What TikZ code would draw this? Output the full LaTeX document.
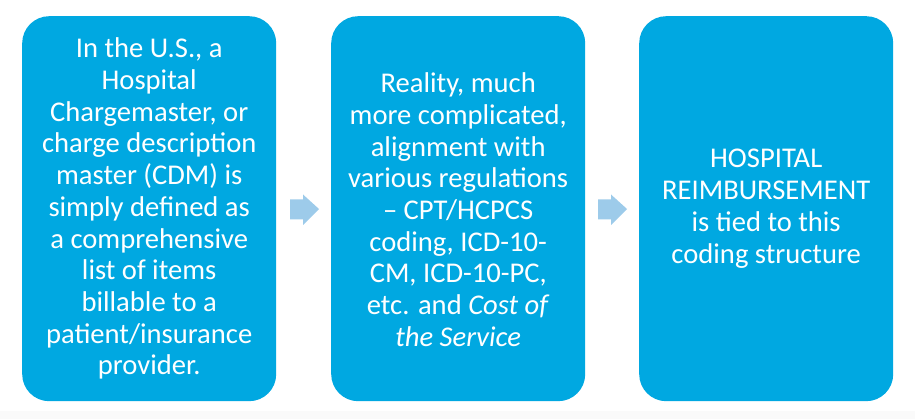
\documentclass[tikz,border=0pt]{standalone}
\usepackage{fontspec}
\setmainfont{Carlito}
\definecolor{boxblue}{RGB}{0,168,225}
\definecolor{arrowblue}{RGB}{157,203,234}
\definecolor{stripgrey}{RGB}{250,250,250}
\begin{document}
\begin{tikzpicture}[x=1pt,y=-1pt,
  card/.style={fill=boxblue, draw=none, rounded corners=27pt, minimum width=254pt, minimum height=385pt, anchor=north west, inner sep=0pt},
  cardtext/.style={text=white, align=center, font=\fontsize{28.6}{31.7}\selectfont},
  blockarrow/.style={fill=arrowblue, draw=none}]
\useasboundingbox (0,0) rectangle (915,419);
\fill[stripgrey] (0,411) rectangle (915,419);
\node[card] (b1) at (22,16) {};
\node[card] (b2) at (331,16) {};
\node[card] (b3) at (639,16) {};
\node[cardtext] (t1) at ([yshift=0pt]b1.center) {In the U.S., a\\Hospital\\Chargemaster, or\\charge description\\master (CDM) is\\simply defined as\\a comprehensive\\list of items\\billable to a\\patient/insurance\\provider.};
\node[cardtext] (t2) at ([yshift=-1pt]b2.center) {Reality, much\\more complicated,\\alignment with\\various regulations\\– CPT/HCPCS\\coding, ICD-10-\\CM, ICD-10-PC,\\etc. and \textit{Cost of}\\\textit{the Service}};
\node[cardtext] (t3) at (b3.center) {HOSPITAL\\REIMBURSEMENT\\is tied to this\\coding structure};
\coordinate (a1) at (290,209);
\coordinate (a2) at (598,209);
\foreach \a in {a1,a2}{
  \fill[blockarrow] (\a) ++(0,-9.5) -- ++(13,0) -- ++(0,-5) -- ++(16,14.5) -- ++(-16,16) -- ++(0,-5.5) -- ++(-13,0) -- cycle;
}
\end{tikzpicture}
\end{document}
